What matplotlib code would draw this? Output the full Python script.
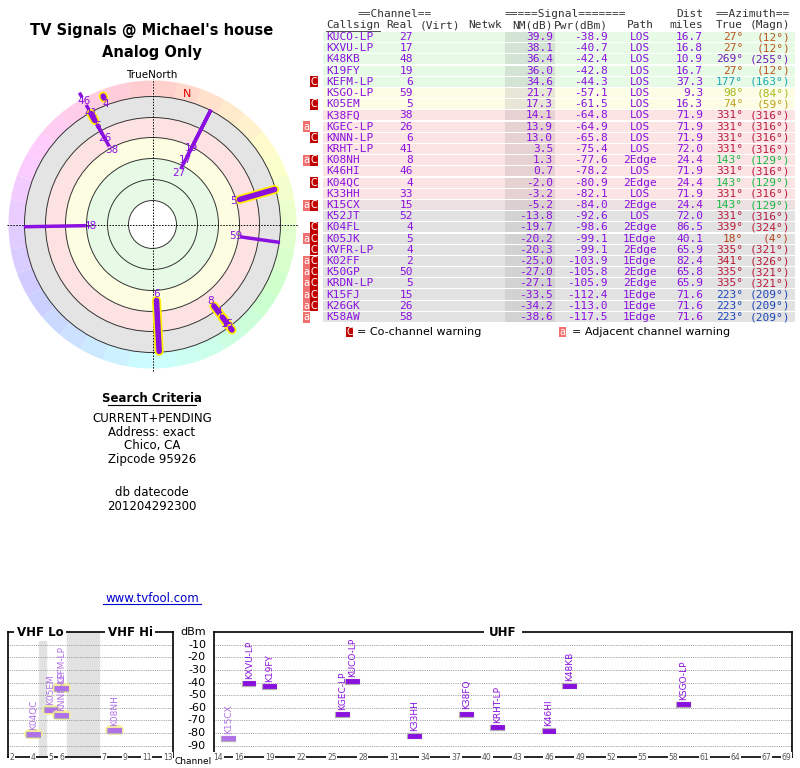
import colorsys
import matplotlib
matplotlib.use("Agg")
import matplotlib.pyplot as plt
import matplotlib.patches as patches
import numpy as np

# --- station table ---
callsigns = ["KUCO-LP", "KXVU-LP", "K48KB", "K19FY", "KEFM-LP", "KSGO-LP", "K05EM", "K38FQ",
             "KGEC-LP", "KNNN-LP", "KRHT-LP", "K08NH", "K46HI", "K04QC", "K33HH", "K15CX",
             "K52JT", "K04FL", "K05JK", "KVFR-LP", "K02FF", "K50GP", "KRDN-LP", "K15FJ",
             "K26GK", "K58AW"]
channels = [27, 17, 48, 19, 6, 59, 5, 38, 26, 6, 41, 8, 46, 4, 33, 15, 52, 4, 5, 4, 2, 50, 5, 15, 26, 58]
nm_db = [39.9, 38.1, 36.4, 36.0, 34.6, 21.7, 17.3, 14.1, 13.9, 13.0, 3.5, 1.3, 0.7, -2.0, -3.2,
         -5.2, -13.8, -19.7, -20.2, -20.3, -25.0, -27.0, -27.1, -33.5, -34.2, -38.6]
pwr_dbm = [-38.9, -40.7, -42.4, -42.8, -44.3, -57.1, -61.5, -64.8, -64.9, -65.8, -75.4, -77.6,
           -78.2, -80.9, -82.1, -84.0, -92.6, -98.6, -99.1, -99.1, -103.9, -105.8, -105.9,
           -112.4, -113.0, -117.5]
paths = ["LOS", "LOS", "LOS", "LOS", "LOS", "LOS", "LOS", "LOS", "LOS", "LOS", "LOS", "2Edge",
         "LOS", "2Edge", "LOS", "2Edge", "LOS", "2Edge", "1Edge", "2Edge", "1Edge", "2Edge",
         "2Edge", "1Edge", "1Edge", "1Edge"]
dist_mi = [16.7, 16.8, 10.9, 16.7, 37.3, 9.3, 16.3, 71.9, 71.9, 71.9, 72.0, 24.4, 71.9, 24.4,
           71.9, 24.4, 72.0, 86.5, 40.1, 65.9, 82.4, 65.8, 65.9, 71.6, 71.6, 71.6]
az_true = [27, 27, 269, 27, 177, 98, 74, 331, 331, 331, 331, 143, 331, 143, 331, 143, 331, 339,
           18, 335, 341, 335, 335, 223, 223, 223]
az_magn = [12, 12, 255, 12, 163, 84, 59, 316, 316, 316, 316, 129, 316, 129, 316, 129, 316, 324,
           4, 321, 326, 321, 321, 209, 209, 209]
flags = ["", "", "", "", "C", "", "C", "", "a", "C", "", "aC", "", "C", "", "aC", "", "C", "aC",
         "C", "aC", "aC", "aC", "aC", "aC", "a"]
analog = ["KEFM-LP", "K05EM", "KNNN-LP", "K08NH", "K04QC", "K15CX", "K04FL"]
polar_skip = ["K33HH", "K52JT"]

W, H = 800, 768
fig = plt.figure(figsize=(8, 7.68), dpi=100)
bg = fig.add_axes([0, 0, 1, 1])
bg.set_xlim(0, W)
bg.set_ylim(H, 0)
bg.axis("off")

PURPLE = "#8a10e0"
LPURPLE = "#b070e8"
MONO = "DejaVu Sans Mono"


def hue_color(az, s, v):
    return colorsys.hsv_to_rgb((az % 360) / 360.0, s, v)


def az_color(az):
    # azimuth text colour, roughly a colour wheel
    h = np.interp(az, [0, 30, 75, 100, 145, 180, 225, 270, 330, 360],
                  [0, 25, 52, 68, 140, 190, 225, 275, 345, 360])
    return colorsys.hsv_to_rgb(h / 360.0, 0.85, 0.72)


# --- titles / left text ---
bg.text(152, 30, "TV Signals @ Michael's house", ha="center", va="center", fontsize=10.5, fontweight="bold")
bg.text(152, 52, "Analog Only", ha="center", va="center", fontsize=10.5, fontweight="bold")
bg.text(152, 75, "TrueNorth", ha="center", va="center", fontsize=7.5)
bg.text(152, 398, "Search Criteria", ha="center", va="center", fontsize=8.5, fontweight="bold")
bg.plot([108, 196], [405, 405], color="black", lw=0.8)
for txt, y in [("CURRENT+PENDING", 418), ("Address: exact", 432), ("Chico, CA", 446),
               ("Zipcode 95926", 460), ("db datecode", 492), ("201204292300", 506)]:
    bg.text(152, y, txt, ha="center", va="center", fontsize=8.5)
bg.text(152, 598, "www.tvfool.com", ha="center", va="center", fontsize=8.5, color="#0000cc")
bg.plot([103, 201], [604, 604], color="#0000cc", lw=0.8)

# --- polar plot ---
pax = fig.add_axes([5 / W, 1 - 372 / H, 295 / W, 295 / H])
pax.set_xlim(-147.5, 147.5)
pax.set_ylim(-147.5, 147.5)
pax.set_aspect("equal")
pax.axis("off")
for a in range(0, 360, 10):
    pax.add_patch(patches.Wedge((0, 0), 144, 90 - a - 10, 90 - a, width=17,
                                facecolor=hue_color(a + 5, 0.2, 1.0), edgecolor="none"))
bands = [(128, "#e4e4e4"), (107, "#fde2e2"), (87, "#fdfde2"), (66, "#e6fae6"), (45, "#e6fae6"), (24, "white")]
for r, c in bands:
    pax.add_patch(plt.Circle((0, 0), r, facecolor=c, edgecolor="none"))
for r in [24, 45, 66, 87, 107, 128]:
    pax.add_patch(plt.Circle((0, 0), r, fill=False, edgecolor="#333333", lw=0.7))
pax.plot([-146, 146], [0, 0], color="black", lw=0.7, ls=(0, (1.5, 1.5)))
pax.plot([0, 0], [-146, 146], color="black", lw=0.7, ls=(0, (1.5, 1.5)))
nang = np.radians(15)
pax.text(135 * np.sin(nang), 135 * np.cos(nang), "N", color="#dd0000", fontsize=8, ha="center", va="center")

first_r = {}
count = {}
for cs, ch, nm, az in zip(callsigns, channels, nm_db, az_true):
    if nm < -20 or cs in polar_skip:
        continue
    k = count.get(az, 0)
    count[az] = k + 1
    if k == 0:
        first_r[az] = np.interp(-nm, [-40, -36, -34.6, -22, -14, -1.3, 20],
                                [58, 63, 70, 84, 85, 96, 130])
    rl = first_r[az] + 14 * k
    r0 = rl + 6
    r1 = max(127, r0 + 2)
    t = np.radians(az)
    xs = np.array([r0, r1]) * np.sin(t)
    ys = np.array([r0, r1]) * np.cos(t)
    if cs in analog:
        pax.plot(xs, ys, color="#ffee00", lw=6.5, solid_capstyle="round")
        pax.plot(xs, ys, color=PURPLE, lw=4, solid_capstyle="round")
    else:
        pax.plot(xs, ys, color=PURPLE, lw=2.5)
    pax.text(rl * np.sin(t), rl * np.cos(t), str(ch), color=PURPLE, fontsize=7.5,
             ha="center", va="center")

# --- table ---
row0, rh = 37, 11.2
for i, nm in enumerate(nm_db):
    y = row0 + i * rh
    if nm >= 30:
        c, cd = "#e6fae6", "#d4e4d4"
    elif nm >= 15:
        c, cd = "#fdfde6", "#e8e6d6"
    elif nm >= -3.5:
        c, cd = "#fde4e4", "#e6d2d2"
    elif nm >= -6:
        c, cd = "#ece0e0", "#dccfcf"
    else:
        c, cd = "#e2e2e2", "#d2d2d2"
    bg.add_patch(patches.Rectangle((323, y - rh / 2 + 0.5), 472, rh - 1, facecolor=c, edgecolor="none"))
    bg.add_patch(patches.Rectangle((505, y - rh / 2 + 0.5), 50, rh - 1, facecolor=cd, edgecolor="none"))

fs = 8
hdr = dict(fontsize=fs, family=MONO, va="center", color="#333333")
bg.text(358, 14, "==Channel==", **hdr, ha="left")
bg.text(505, 14, "=====Signal=======", **hdr, ha="left")
bg.text(703, 14, "Dist", **hdr, ha="right")
bg.text(790, 14, "==Azimuth==", **hdr, ha="right")
bg.text(326, 25, "Callsign", **hdr, ha="left")
bg.text(413, 25, "Real", **hdr, ha="right")
bg.text(420, 25, "(Virt)", **hdr, ha="left")
bg.text(468, 25, "Netwk", **hdr, ha="left")
bg.text(553, 25, "NM(dB)", **hdr, ha="right")
bg.text(608, 25, "Pwr(dBm)", **hdr, ha="right")
bg.text(640, 25, "Path", **hdr, ha="center")
bg.text(703, 25, "miles", **hdr, ha="right")
bg.text(743, 25, "True", **hdr, ha="right")
bg.text(790, 25, "(Magn)", **hdr, ha="right")
bg.plot([326, 380], [31, 31], color="#333333", lw=0.6)

cell = dict(fontsize=fs, family=MONO, va="center", color=PURPLE)
for i in range(len(callsigns)):
    y = row0 + i * rh
    bg.text(326, y, callsigns[i], ha="left", **cell)
    bg.text(413, y, str(channels[i]), ha="right", **cell)
    bg.text(553, y, f"{nm_db[i]:.1f}", ha="right", **cell)
    bg.text(608, y, f"{pwr_dbm[i]:.1f}", ha="right", **cell)
    bg.text(640, y, paths[i], ha="center", **cell)
    bg.text(703, y, f"{dist_mi[i]:.1f}", ha="right", **cell)
    ac = az_color(az_true[i])
    bg.text(743, y, f"{az_true[i]}°", ha="right", fontsize=fs, family=MONO, va="center", color=ac)
    bg.text(790, y, f"({az_magn[i]}°)", ha="right", fontsize=fs, family=MONO, va="center", color=ac)
    if "C" in flags[i]:
        bg.add_patch(patches.Rectangle((310, y - 5.5), 8, 11, facecolor="#c00000", edgecolor="none"))
        bg.text(314, y, "C", color="white", fontsize=7, ha="center", va="center")
    if "a" in flags[i]:
        bg.add_patch(patches.Rectangle((303, y - 5.5), 7, 11, facecolor="#f07070", edgecolor="none"))
        bg.text(306.5, y, "a", color="white", fontsize=7, ha="center", va="center")

bg.add_patch(patches.Rectangle((346, 327), 7, 10, facecolor="#c00000", edgecolor="none"))
bg.text(349.5, 332, "C", color="white", fontsize=7, ha="center", va="center")
bg.text(357, 332, "= Co-channel warning", fontsize=8, va="center")
bg.add_patch(patches.Rectangle((559, 327), 7, 10, facecolor="#f07070", edgecolor="none"))
bg.text(562.5, 332, "a", color="white", fontsize=7, ha="center", va="center")
bg.text(572, 332, "= Adjacent channel warning", fontsize=8, va="center")


# --- spectrum ---
def vhf_pos(ch):
    if ch <= 4:
        return 57 + 6 * (ch - 2)
    if ch <= 6:
        return 79 + 6 * (ch - 5)
    return 109 + 6 * (ch - 7)


spec_top, spec_bot = 632, 757
vax = fig.add_axes([8 / W, 1 - spec_bot / H, 165 / W, (spec_bot - spec_top) / H])
uax = fig.add_axes([214 / W, 1 - spec_bot / H, 578 / W, (spec_bot - spec_top) / H])
vax.set_xlim(54.7, 148.0)
uax.set_xlim(13.6, 69.5)
for ax in (vax, uax):
    ax.set_ylim(-99, 0)
    ax.set_yticks([])
    ax.set_xticks([])
    for yv in range(-90, 0, 10):
        ax.axhline(yv, color="#888888", lw=0.6, ls=(0, (1, 1.2)))
    for s in ax.spines.values():
        s.set_linewidth(1.2)
vax.axvspan(72, 76, color="#e2e2e2", zorder=0)
vax.axvspan(88, 106, color="#e2e2e2", zorder=0)

for i in range(16):
    cs, ch, p = callsigns[i], channels[i], pwr_dbm[i]
    col = LPURPLE if cs in analog else PURPLE
    if ch <= 13:
        ax, x, hw = vax, vhf_pos(ch), 2.4
    else:
        ax, x, hw = uax, ch, 0.42
    if cs in analog and nm_db[i] > -3:
        ax.plot([x - hw, x + hw], [p, p], color="#f8f090", lw=7, solid_capstyle="round", alpha=0.9)
    ax.plot([x - hw, x + hw], [p - 0.6, p - 0.6], color="#b0b0b0", lw=4.5)
    ax.plot([x - hw, x + hw], [p, p], color=col, lw=3.5)
    ax.text(x, p + 3.5, cs, rotation=90, ha="center", va="bottom", fontsize=6.5, color=col)

vt = [2, 4, 5, 6, 7, 9, 11, 13]
ut = [14, 16, 19, 22, 25, 28, 31, 34, 37, 40, 43, 46, 49, 52, 55, 58, 61, 64, 67, 69]
for ax, ticks, posf in [(vax, vt, vhf_pos), (uax, ut, lambda c: c)]:
    for t in ticks:
        ax.text(posf(t), -99, str(t), ha="center", va="center", fontsize=5.5, color="#555555",
                bbox=dict(facecolor="white", edgecolor="none", pad=0.5), clip_on=False)


def ftext(px, py, s, **kw):
    fig.text(px / W, 1 - py / H, s, zorder=10, **kw)


for lbl, px in [("VHF Lo", 40), ("VHF Hi", 130)]:
    ftext(px, 632, lbl, ha="center", va="center", fontsize=8.5, fontweight="bold",
          bbox=dict(facecolor="white", edgecolor="none", pad=2))
ftext(503, 632, "UHF", ha="center", va="center", fontsize=8.5, fontweight="bold",
      bbox=dict(facecolor="white", edgecolor="none", pad=4))
ftext(193, 632, "dBm", ha="center", va="center", fontsize=8)
for yv in range(-10, -100, -10):
    ftext(206, 632 + (-yv) * 125 / 99, str(yv), ha="right", va="center", fontsize=8)
ftext(193, 762, "Channel", ha="center", va="center", fontsize=6.5)

fig.savefig("out.png", dpi=100)
